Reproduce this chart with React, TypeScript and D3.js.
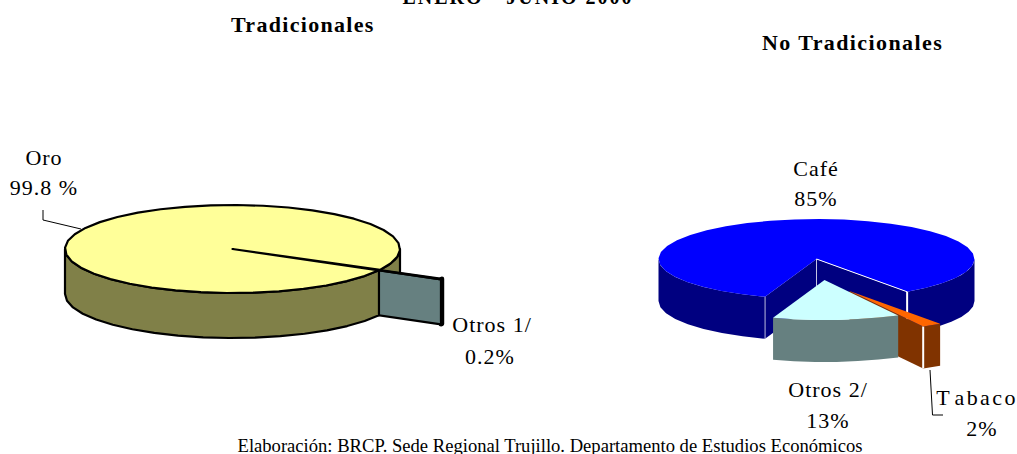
// Two exploded 3D pies: traditional vs non traditional exports, Jan-Jun 2000.
import * as d3 from "d3";

const W = 1017;
const H = 454;

const TRAD_CATEGORIES = ["Otros 1/", "Oro"];
const TRAD_VALUES = [0.2, 99.8];
const NOTRAD_CATEGORIES = ["Tabaco", "Otros 2/", "Café"];
const NOTRAD_VALUES = [2, 13, 85];

const SERIF = "'Liberation Serif', 'Times New Roman', serif";
const rad = (deg: number) => (deg * Math.PI) / 180;

type Geo = { cx: number; cy: number; rx: number; ry: number; depth: number };
type Pt = [number, number];

const LEFT: Geo = { cx: 232.5, cy: 249, rx: 167.5, ry: 44, depth: 45 };
const RIGHT: Geo = { cx: 816.5, cy: 259, rx: 158, ry: 40, depth: 42 };

const toPath = d3.line<Pt>();

const slices = (values: number[], startDeg: number) =>
  d3
    .pie<number>()
    .sort(null)
    .startAngle(rad(startDeg))
    .endAngle(rad(startDeg + 360))(values);

// angle 0 is the top of the ellipse, clockwise
function rim(g: Geo, a0: number, a1: number, dx = 0, dy = 0): Pt[] {
  const n = Math.max(1, Math.ceil((a1 - a0) / rad(9)));
  return d3.range(n + 1).map((i) => {
    const a = a0 + ((a1 - a0) * i) / n;
    return [g.cx + dx + g.rx * Math.sin(a), g.cy + dy - g.ry * Math.cos(a)] as Pt;
  });
}

function topFace(g: Geo, a0: number, a1: number, dx = 0, dy = 0) {
  return toPath([[g.cx + dx, g.cy + dy], ...rim(g, a0, a1, dx, dy)]) + "Z";
}

// side wall under an arc, only the parts facing the viewer
function arcWalls(g: Geo, a0: number, a1: number, dx = 0, dy = 0) {
  const out: string[] = [];
  for (const k of [-1, 0, 1]) {
    const lo = Math.max(a0, rad(90 + 360 * k));
    const hi = Math.min(a1, rad(270 + 360 * k));
    if (hi <= lo) continue;
    const pts = rim(g, lo, hi, dx, dy);
    const low = pts.map(([x, y]) => [x, y + g.depth] as Pt).reverse();
    out.push(toPath([...pts, ...low]) + "Z");
  }
  return out;
}

function radialWall(g: Geo, a: number, dx = 0, dy = 0) {
  const [p] = rim(g, a, a, dx, dy);
  const c: Pt = [g.cx + dx, g.cy + dy];
  return (
    toPath([c, p, [p[0], p[1] + g.depth], [c[0], c[1] + g.depth]]) + "Z"
  );
}

function Label({ x, y, text, gap = 0, spacing = 1 }: { x: number; y: number; text: string; gap?: number; spacing?: number }) {
  return (
    <text x={x} y={y} textAnchor="middle" fontSize={22} letterSpacing={spacing} fill="#000">
      {gap ? (
        <>
          {text[0]}
          <tspan dx={gap}>{text.slice(1)}</tspan>
        </>
      ) : (
        text
      )}
    </text>
  );
}

export default function App() {
  const [otros1, oro] = slices(TRAD_VALUES, 118.3);
  const [tabaco, otros2, cafe] = slices(NOTRAD_VALUES, 145);

  const O1 = { dx: 62, dy: 9 };
  const O2 = { dx: 8, dy: 21 };
  const TB = { dx: 33, dy: 32 };

  const oroWalls = arcWalls(LEFT, oro.startAngle, oro.endAngle);
  const cafeWalls = arcWalls(RIGHT, cafe.startAngle, cafe.endAngle);
  const tabacoWalls = arcWalls(RIGHT, tabaco.startAngle, tabaco.endAngle, TB.dx, TB.dy);
  const otros2Walls = arcWalls(RIGHT, otros2.startAngle, otros2.endAngle, O2.dx, O2.dy);

  const cafeStart = rim(RIGHT, cafe.startAngle, cafe.startAngle)[0];
  const cafeEnd = rim(RIGHT, cafe.endAngle, cafe.endAngle)[0];
  const tabacoSplit = rim(RIGHT, tabaco.endAngle, tabaco.endAngle, TB.dx, TB.dy)[0];

  return (
    <svg
      width={W}
      height={H}
      viewBox={`0 0 ${W} ${H}`}
      style={{ position: "absolute", left: 0, top: 0, fontFamily: SERIF }}
    >
      <rect width={W} height={H} fill="#fff" />

      <text x={518} y={4} textAnchor="middle" fontSize={20} fontWeight="bold" letterSpacing={2}>
        ENERO - JUNIO 2000
      </text>
      <text x={231} y={32} fontSize={22} fontWeight="bold" letterSpacing={1.3}>
        Tradicionales
      </text>
      <text x={762} y={50} fontSize={22} fontWeight="bold" letterSpacing={1.4}>
        No Tradicionales
      </text>

      {/* left pie, back to front */}
      <g stroke="#000" strokeWidth={2.2} strokeLinejoin="round">
        <path d={oroWalls[1] ?? ""} fill="#808048" />
        <path d={arcWalls(LEFT, otros1.startAngle, otros1.endAngle, O1.dx, O1.dy)[0]} fill="#000" strokeWidth={4.5} />
        <path d={radialWall(LEFT, otros1.endAngle, O1.dx, O1.dy)} fill="#668080" />
        <path d={topFace(LEFT, otros1.startAngle, otros1.endAngle, O1.dx, O1.dy)} fill="#000" />
        <path d={oroWalls[0]} fill="#808048" />
        <path d={topFace(LEFT, oro.startAngle, oro.endAngle)} fill="#ffff99" />
      </g>

      {/* right pie, back to front */}
      <g>
        {cafeWalls.map((d) => (
          <path key={d} d={d} fill="#000080" />
        ))}
        <path d={radialWall(RIGHT, cafe.endAngle)} fill="#000080" />
        <path d={radialWall(RIGHT, cafe.startAngle)} fill="#000080" />
        <path d={topFace(RIGHT, cafe.startAngle, cafe.endAngle)} fill="#0000ff" />
        <g stroke="#fff" fill="none">
          <path d={toPath([[RIGHT.cx, RIGHT.cy], cafeEnd]) ?? ""} strokeWidth={1} />
          <path d={toPath([[RIGHT.cx, RIGHT.cy], [RIGHT.cx, RIGHT.cy + RIGHT.depth]]) ?? ""} strokeWidth={0.7} />
          <path d={toPath([cafeEnd, [cafeEnd[0], cafeEnd[1] + RIGHT.depth]]) ?? ""} strokeWidth={2} />
          <path d={toPath([cafeStart, [cafeStart[0], cafeStart[1] + RIGHT.depth]]) ?? ""} strokeWidth={0.7} />
        </g>

        <path d={radialWall(RIGHT, tabaco.endAngle, TB.dx, TB.dy)} fill="#803300" />
        {tabacoWalls.map((d) => (
          <path key={d} d={d} fill="#803300" />
        ))}
        <path
          d={toPath([tabacoSplit, [tabacoSplit[0], tabacoSplit[1] + RIGHT.depth]]) ?? ""}
          stroke="#fff"
          strokeWidth={2}
        />
        <path d={topFace(RIGHT, tabaco.startAngle, tabaco.endAngle, TB.dx, TB.dy)} fill="#ff6600" />

        {otros2Walls.map((d) => (
          <path key={d} d={d} fill="#668080" />
        ))}
        <path d={topFace(RIGHT, otros2.startAngle, otros2.endAngle, O2.dx, O2.dy)} fill="#ccffff" />
      </g>

      {/* leader lines */}
      <g fill="none" stroke="#000" strokeWidth={1}>
        <path d={toPath([[43, 210], [43, 220], [81, 229]]) ?? ""} />
        <path d={toPath([[930, 370], [932.5, 415], [943, 415]]) ?? ""} />
      </g>

      <Label x={44} y={165} text={TRAD_CATEGORIES[1]} />
      <Label x={44} y={195} text={`${TRAD_VALUES[1]} %`} />
      <Label x={492} y={332} text={TRAD_CATEGORIES[0]} />
      <Label x={490} y={364} text={`${TRAD_VALUES[0]}%`} />
      <Label x={816} y={176} text={NOTRAD_CATEGORIES[2]} />
      <Label x={816} y={206} text={`${NOTRAD_VALUES[2]}%`} />
      <Label x={828} y={397} text={NOTRAD_CATEGORIES[1]} />
      <Label x={828} y={428} text={`${NOTRAD_VALUES[1]}%`} />
      <Label x={977} y={405} text={NOTRAD_CATEGORIES[0]} gap={4} spacing={2.4} />
      <Label x={982} y={436} text={`${NOTRAD_VALUES[0]}%`} />

      <text x={550} y={452} textAnchor="middle" fontSize={18.6}>
        Elaboración: BRCP. Sede Regional Trujillo. Departamento de Estudios Económicos
      </text>
    </svg>
  );
}
